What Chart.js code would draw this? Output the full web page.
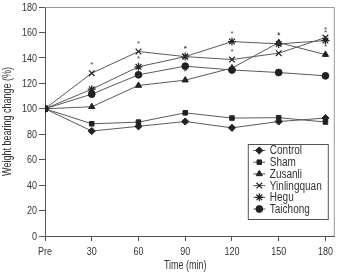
<!DOCTYPE html>
<html>
<head>
<meta charset="utf-8">
<script src="https://cdn.jsdelivr.net/npm/chart.js@4/dist/chart.umd.min.js"></script>
<style>
  html, body { margin: 0; padding: 0; background: #fff; }
  #wrap { width: 340px; height: 272px; }
</style>
</head>
<body>
<div id="wrap"><canvas id="chart" width="340" height="272"></canvas></div>
<script>
const times = [0, 30, 60, 90, 120, 150, 180]
const timeLabels = ['Pre', '30', '60', '90', '120', '150', '180']
const yTicks = [0, 20, 40, 60, 80, 100, 120, 140, 160, 180]

const control = [100, 82.5, 86.2, 90, 85, 90, 92.7]
const sham = [100, 88.2, 89.5, 96.8, 92.7, 93, 89.6]
const zusanli = [100, 101.6, 118.3, 122.5, 132, 152, 142.6]
const yinlingquan = [100, 128, 145, 141, 138.7, 143.7, 156]
const hegu = [100, 115.4, 133, 141, 152.8, 151, 153.6]
const taichong = [100, 111.5, 126.7, 133.5, 130.5, 128.5, 125.9]

// significant vs control (drawn as small asterisks)
const sigZusanli = [false, false, true, true, false, true, true]
const sigYinlingquan = [false, true, true, true, true, true, true]
const sigHegu = [false, false, true, true, true, true, true]

const FONT = '"Liberation Sans", Arial, sans-serif'
const TEXT = '#333'
const LINE = '#5a5a5a'
const MARK = '#222'

function series(label, values, style, radius, sig) {
  return {
    label: label,
    data: values.map((v, i) => ({ x: times[i], y: v })),
    sig: sig || null,
    borderColor: LINE,
    borderWidth: 1,
    backgroundColor: MARK,
    pointStyle: style,
    pointRadius: radius,
    pointBorderColor: MARK,
    pointBackgroundColor: MARK,
    pointBorderWidth: style === 'crossRot' || style === 'star' ? 1.2 : 1,
    tension: 0,
    fill: false
  }
}

// the original uses a condensed face, so squeeze regular text sideways
function narrowText(ctx, text, x, y, size, squeeze, align, rotate) {
  ctx.save()
  ctx.font = size + 'px ' + FONT
  ctx.translate(x, y)
  if (rotate) ctx.rotate(-Math.PI / 2)
  ctx.scale(squeeze, 1)
  ctx.textAlign = align
  ctx.textBaseline = 'middle'
  ctx.fillText(text, 0, 0)
  ctx.restore()
}

const frameAndLegend = {
  id: 'frameAndLegend',
  afterDatasetsDraw(chart) {
    const ctx = chart.ctx
    const a = chart.chartArea
    const xs = chart.scales.x
    const ys = chart.scales.y
    ctx.save()
    // top and right frame
    ctx.strokeStyle = '#9a9a9a'
    ctx.lineWidth = 1
    ctx.beginPath()
    ctx.moveTo(a.left, a.top + 0.5)
    ctx.lineTo(a.right - 0.5, a.top + 0.5)
    ctx.lineTo(a.right - 0.5, a.bottom)
    ctx.stroke()

    // tick labels and axis titles
    ctx.fillStyle = TEXT
    ys.ticks.forEach(t => narrowText(ctx, String(t.value), a.left - 8, ys.getPixelForValue(t.value) + 0.5, 11.5, 0.78, 'right'))
    xs.ticks.forEach(t => narrowText(ctx, timeLabels[times.indexOf(t.value)], xs.getPixelForValue(t.value), a.bottom + 15.5, 11.5, 0.78, 'center'))
    narrowText(ctx, 'Time (min)', xs.getPixelForValue(90), a.bottom + 30, 12, 0.75, 'center')
    narrowText(ctx, 'Weight bearing change (%)', 8, (a.top + a.bottom) / 2, 12, 0.75, 'center', true)

    // asterisks
    ctx.fillStyle = '#444'
    ctx.font = '8px ' + FONT
    ctx.textAlign = 'center'
    ctx.textBaseline = 'middle'
    chart.data.datasets.forEach(ds => {
      if (!ds.sig) return
      ds.data.forEach((p, i) => {
        if (!ds.sig[i]) return
        ctx.fillText('*', xs.getPixelForValue(p.x), ys.getPixelForValue(p.y) - 8)
      })
    })

    // legend box
    const bx = a.right - 87, by = a.bottom - 92, bw = 80, bh = 75
    ctx.fillStyle = '#fff'
    ctx.fillRect(bx, by, bw, bh)
    ctx.strokeStyle = '#555'
    ctx.strokeRect(bx + 0.5, by + 0.5, bw, bh)
    chart.data.datasets.forEach((ds, i) => {
      const cy = by + 6.5 + i * 11.7
      const cx = bx + 11.5
      ctx.strokeStyle = LINE
      ctx.beginPath()
      ctx.moveTo(cx - 6, cy)
      ctx.lineTo(cx + 6, cy)
      ctx.stroke()
      ctx.strokeStyle = MARK
      ctx.fillStyle = MARK
      ctx.lineWidth = ds.pointBorderWidth
      Chart.helpers.drawPoint(ctx, { pointStyle: ds.pointStyle, radius: ds.pointRadius, rotation: 0, borderWidth: ds.pointBorderWidth }, cx, cy)
      ctx.lineWidth = 1
      ctx.fillStyle = TEXT
      narrowText(ctx, ds.label, bx + 22, cy + 0.5, 12.5, 0.8, 'left')
    })
    ctx.restore()
  }
}

new Chart(document.getElementById('chart').getContext('2d'), {
  type: 'line',
  data: {
    datasets: [
      series('Control', control, 'rectRot', 3.6),
      series('Sham', sham, 'rect', 3.2),
      series('Zusanli', zusanli, 'triangle', 3.6, sigZusanli),
      series('Yinlingquan', yinlingquan, 'crossRot', 4, sigYinlingquan),
      series('Hegu', hegu, 'star', 4, sigHegu),
      series('Taichong', taichong, 'circle', 3.4)
    ]
  },
  options: {
    responsive: false,
    animation: false,
    layout: { padding: { top: 7, right: 3, left: 0, bottom: 0 } },
    plugins: {
      legend: { display: false },
      tooltip: { enabled: false }
    },
    scales: {
      x: {
        type: 'linear',
        min: 0,
        max: 186,
        afterFit: s => { s.height = 36 },
        afterBuildTicks: s => { s.ticks = times.map(v => ({ value: v })) },
        grid: { drawOnChartArea: false, drawTicks: true, tickLength: 5, color: '#555' },
        border: { color: '#555', width: 1 },
        ticks: { display: false, includeBounds: false }
      },
      y: {
        min: 0,
        max: 180,
        afterFit: s => { s.width = 45 },
        afterBuildTicks: s => { s.ticks = yTicks.map(v => ({ value: v })) },
        grid: { drawOnChartArea: false, drawTicks: true, tickLength: 6, color: '#555' },
        border: { color: '#555', width: 1 },
        ticks: { display: false }
      }
    }
  },
  plugins: [frameAndLegend]
})
</script>
</body>
</html>
